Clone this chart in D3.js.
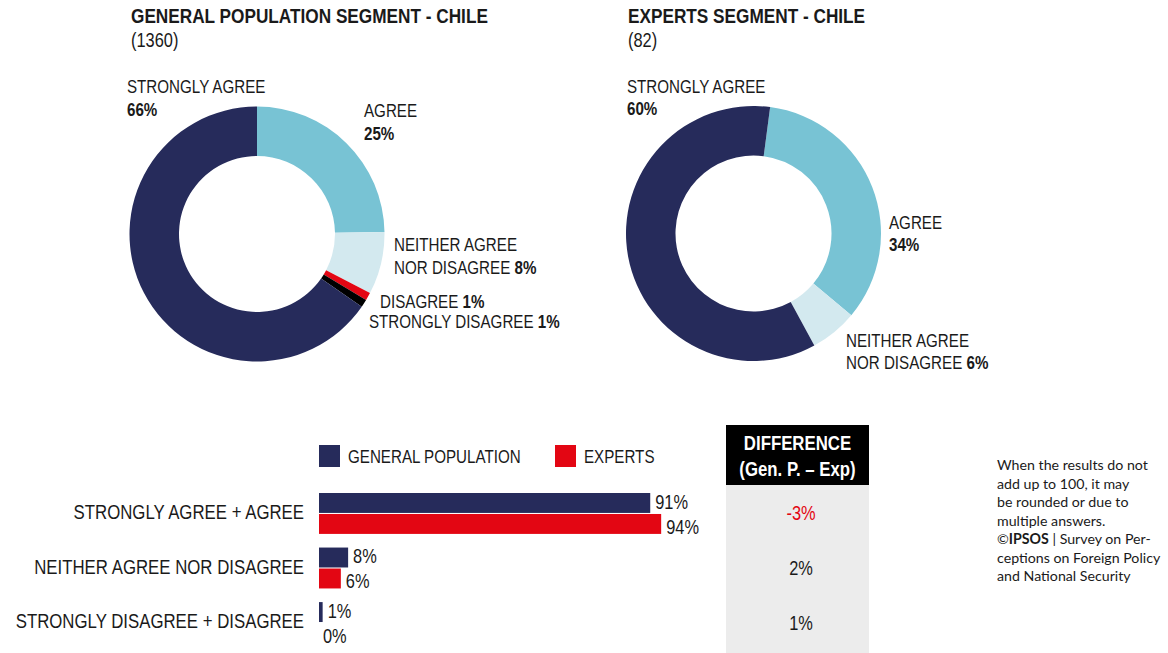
<!DOCTYPE html>
<html>
<head>
    <title>Chile segments</title>
    <script src="https://d3js.org/d3.v7.min.js"></script>
    <style>
        body { margin: 0; background: #fff; }
        svg text { font-family: "Liberation Sans", Arial, sans-serif; fill: #1a1a1a; }
        .title { font-size: 21px; font-weight: bold; }
        .sub { font-size: 20px; }
        .dlabel { font-size: 18.5px; }
        .cat { font-size: 20.5px; }
        .val { font-size: 20px; }
        .leg { font-size: 18.5px; }
        .note { font-family: Lato, "Open Sans", sans-serif !important; font-size: 14.2px; }
    </style>
</head>
<body>
    <svg width="1168" height="653"></svg>
    <script>
        // donut data (order as listed in the survey)
        const donutCategories = ["STRONGLY AGREE", "AGREE", "NEITHER AGREE NOR DISAGREE", "DISAGREE", "STRONGLY DISAGREE"];
        const generalValues = [66, 25, 8, 1, 1];
        const expertValues = [60, 34, 6, 0, 0];

        // grouped bars
        const barCategories = ["STRONGLY AGREE + AGREE", "NEITHER AGREE NOR DISAGREE", "STRONGLY DISAGREE + DISAGREE"];
        const barGeneral = [91, 8, 1];
        const barExperts = [94, 6, 0];
        const seriesNames = ["GENERAL POPULATION", "EXPERTS"];

        const colors = ["#262b5b", "#78c3d4", "#d3e9ef", "#e30613", "#000000"];
        const navy = "#262b5b", red = "#e30613";

        const svg = d3.select("svg");

        // Arial squeezed to look like Arial Narrow
        const NARROW = 0.82;
        function ntext(parent, x, y, cls, anchor) {
            return parent.append("text")
                .attr("class", cls)
                .attr("transform", `translate(${x},${y}) scale(${NARROW},1)`)
                .attr("text-anchor", anchor || "start");
        }

        // ---------- donuts ----------
        const arc = d3.arc().innerRadius(78).outerRadius(127.5);
        // clockwise from 12 o'clock starting with AGREE, STRONGLY AGREE last
        const drawOrder = [1, 2, 3, 4, 0];

        function donut(cx, cy, values, offsetDeg) {
            const a0 = offsetDeg * Math.PI / 180;
            const pie = d3.pie().sort(null).value(i => values[i])
                .startAngle(a0).endAngle(a0 + 2 * Math.PI);
            const g = svg.append("g").attr("transform", `translate(${cx},${cy})`);
            g.selectAll("path")
                .data(pie(drawOrder))
                .enter().append("path")
                .attr("d", arc)
                .attr("fill", d => colors[d.data]);
            return g;
        }

        function label(g, x, y, lines) {
            const t = ntext(g, x, y, "dlabel");
            lines.forEach((parts, i) => {
                const ts = t.append("tspan").attr("x", 0).attr("y", i * 23);
                parts.forEach(p => {
                    ts.append("tspan").attr("font-weight", p.b ? "bold" : null).text(p.t);
                });
            });
        }
        const pct = v => v + "%";

        // general population
        ntext(svg, 131, 23, "title").text("GENERAL POPULATION SEGMENT - CHILE");
        ntext(svg, 131, 47, "sub").text("(1360)");
        const g1 = donut(257, 234, generalValues, 0);
        label(g1, -130, -141, [[{t: donutCategories[0]}], [{t: pct(generalValues[0]), b: true}]]);
        label(g1, 107, -117, [[{t: donutCategories[1]}], [{t: pct(generalValues[1]), b: true}]]);
        label(g1, 137, 17, [[{t: "NEITHER AGREE"}], [{t: "NOR DISAGREE "}, {t: pct(generalValues[2]), b: true}]]);
        label(g1, 123, 74, [[{t: donutCategories[3] + " "}, {t: pct(generalValues[3]), b: true}]]);
        label(g1, 112, 94, [[{t: donutCategories[4] + " "}, {t: pct(generalValues[4]), b: true}]]);

        // experts
        ntext(svg, 628, 23, "title").text("EXPERTS SEGMENT - CHILE");
        ntext(svg, 628, 47, "sub").text("(82)");
        const g2 = donut(753.5, 233.5, expertValues, 7.5);
        label(g2, -126.5, -141, [[{t: donutCategories[0]}], [{t: pct(expertValues[0]), b: true}]]);
        label(g2, 135.5, -5, [[{t: donutCategories[1]}], [{t: pct(expertValues[1]), b: true}]]);
        label(g2, 92.5, 113, [[{t: "NEITHER AGREE"}], [{t: "NOR DISAGREE "}, {t: pct(expertValues[2]), b: true}]]);

        // ---------- bars ----------
        const x = d3.scaleLinear().domain([0, 100]).range([319, 683]);
        const y = d3.scaleBand().domain(barCategories).range([493, 643]).paddingInner(0.25).paddingOuter(0);
        const sub = d3.scaleBand().domain([0, 1]).range([0, y.bandwidth()]).paddingInner(0.05);

        const rows = barCategories.map((c, i) => ({cat: c, vals: [barGeneral[i], barExperts[i]]}));
        const grp = svg.selectAll(".grp").data(rows).enter().append("g")
            .attr("transform", d => `translate(0,${y(d.cat)})`);
        grp.selectAll("rect").data(d => d.vals).enter().append("rect")
            .attr("x", x(0))
            .attr("y", (d, j) => sub(j))
            .attr("width", d => x(d) - x(0))
            .attr("height", sub.bandwidth())
            .attr("fill", (d, j) => j === 0 ? navy : red);
        grp.each(function (d) {
            const g = d3.select(this);
            d.vals.forEach((v, j) => {
                ntext(g, x(v) + (v > 0 ? 5 : 4), sub(j) + sub.bandwidth() - (j === 0 ? 4 : 0), "val")
                    .text(v + "%");
            });
            ntext(g, 304, y.bandwidth() / 2 + 5.5, "cat", "end").text(d.cat);
        });

        // legend
        [[319, navy], [555, red]].forEach(([lx, c], i) => {
            svg.append("rect").attr("x", lx).attr("y", 445).attr("width", 21).attr("height", 22).attr("fill", c);
            ntext(svg, lx + 29, 463, "leg").text(seriesNames[i]);
        });

        // ---------- difference column ----------
        svg.append("rect").attr("x", 726).attr("y", 485).attr("width", 143).attr("height", 168).attr("fill", "#ececec");
        svg.append("rect").attr("x", 726).attr("y", 425).attr("width", 143).attr("height", 60).attr("fill", "#000");
        ntext(svg, 797.5, 450, "title", "middle").style("font-size", "20.5px").style("fill", "#fff").text("DIFFERENCE");
        ntext(svg, 797.5, 476, "title", "middle").style("font-size", "20.5px").style("fill", "#fff").text("(Gen. P. – Exp)");
        rows.forEach(d => {
            const diff = d.vals[0] - d.vals[1];
            ntext(svg, 801, y(d.cat) + y.bandwidth() / 2 + 7, "val", "middle")
                .style("fill", diff < 0 ? red : "#1a1a1a")
                .text(diff + "%");
        });

        // ---------- note ----------
        const noteLines = [
            [{t: "When the results do not"}],
            [{t: "add up to 100, it may"}],
            [{t: "be rounded or due to"}],
            [{t: "multiple answers."}],
            [{t: "©"}, {t: "IPSOS", b: true}, {t: " | Survey on Per-"}],
            [{t: "ceptions on Foreign Policy"}],
            [{t: "and National Security"}]
        ];
        const note = svg.append("text").attr("class", "note");
        noteLines.forEach((parts, i) => {
            const ts = note.append("tspan").attr("x", 997).attr("y", 470 + i * 18.5);
            parts.forEach(p => ts.append("tspan").attr("font-weight", p.b ? "bold" : null).text(p.t));
        });
    </script>
</body>
</html>
